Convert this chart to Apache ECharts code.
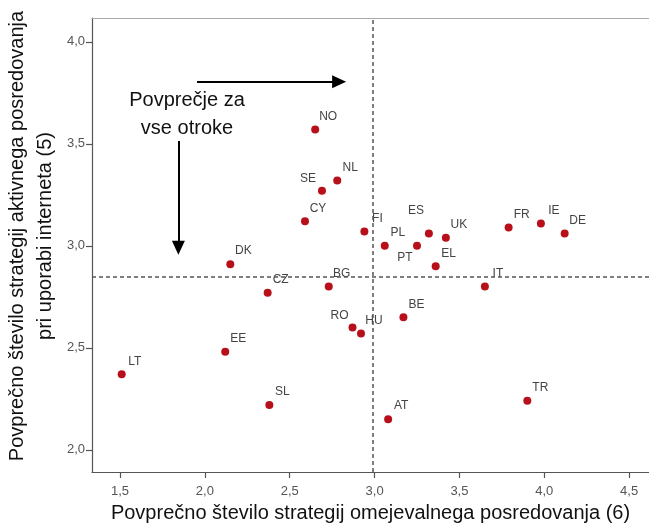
<!DOCTYPE html>
<html>
<head>
<meta charset="utf-8">
<script src="https://cdn.jsdelivr.net/npm/echarts@6/dist/echarts.min.js"></script>
<style>
html,body{margin:0;padding:0;background:#fff;}
#chart{width:649px;height:523px;}
</style>
</head>
<body>
<div id="chart"></div>
<script>
const countries = ['NO','NL','SE','CY','FI','PL','PT','ES','UK','EL','IT','FR','IE','DE','BE','DK','CZ','BG','RO','HU','EE','LT','SL','AT','TR'];
const restrictive = [2.65,2.78,2.69,2.59,2.94,3.06,3.25,3.32,3.42,3.36,3.65,3.79,3.98,4.12,3.17,2.15,2.37,2.73,2.87,2.92,2.12,1.51,2.38,3.08,3.90];
const active = [3.57,3.32,3.27,3.12,3.07,3.00,3.00,3.06,3.04,2.90,2.80,3.09,3.11,3.06,2.65,2.91,2.77,2.80,2.60,2.57,2.48,2.37,2.22,2.15,2.24];
const meanRestrictive = 2.99;
const meanActive = 2.85;
const xTicks = [1.5,2.0,2.5,3.0,3.5,4.0,4.5];
const yTicks = [2.0,2.5,3.0,3.5,4.0];
const xTitle = 'Povprečno število strategij omejevalnega posredovanja (6)';
const yTitle = ['Povprečno število strategij aktivnega posredovanja','pri uporabi interneta (5)'];
const noteText = ['Povprečje za','vse otroke'];

const FONT = '"Liberation Sans", Arial, sans-serif';
const fmt = v => v.toFixed(1).replace('.', ',');

// label placement overrides (style only)
const labelOffsets = { SE:[-14,-12], ES:[-13,-23], PT:[-12,12], RO:[-13,-12] };

const points = countries.map((c,i) => {
  const o = labelOffsets[c] || [13,-13];
  return { name:c, value:[restrictive[i], active[i]], label:{ offset:o } };
});

const chart = echarts.init(document.getElementById('chart'), null, {renderer:'canvas'});
const axisCommon = {
  type:'value',
  splitLine:{show:false},
};
chart.setOption({
  animation:false,
  backgroundColor:'#fff',
  grid:{ left:92, right:0, top:18, bottom:51, containLabel:false, outerBoundsMode:'none' },
  xAxis:[{
    ...axisCommon,
    min:1.335, max:4.617,
    axisLine:{ onZero:false, lineStyle:{ color:'#555', width:1.2 } },
    axisTick:{ show:true, length:6, customValues:xTicks, lineStyle:{ color:'#555', width:1.2 } },
    axisLabel:{ customValues:xTicks, formatter:fmt, color:'#555', fontSize:13, fontFamily:FONT, margin:13 },
    name:xTitle, nameLocation:'middle', nameGap:31,
    nameTextStyle:{ fontSize:20, fontFamily:FONT, color:'#111' }
  },{
    ...axisCommon, position:'top',
    min:1.335, max:4.617,
    axisLine:{ show:true, onZero:false, lineStyle:{ color:'#aaa', width:1.2 } },
    axisTick:{show:false}, axisLabel:{show:false}
  }],
  yAxis:{
    ...axisCommon,
    min:1.891, max:4.117,
    axisLine:{ show:true, onZero:false, lineStyle:{ color:'#555', width:1.2 } },
    axisTick:{ show:true, length:6, customValues:yTicks, lineStyle:{ color:'#555', width:1.2 } },
    axisLabel:{ customValues:yTicks, formatter:fmt, color:'#555', fontSize:13, fontFamily:FONT, margin:7 }
  },
  graphic:[
    { type:'text', x:31, y:236, rotation:Math.PI/2,
      style:{ text:yTitle.join('\n'), fontSize:20, fontFamily:FONT, fill:'#111', lineHeight:28,
              align:'center', verticalAlign:'middle' } },
    { type:'text', x:187, y:114,
      style:{ text:noteText.join('\n'), fontSize:20, fontFamily:FONT, fill:'#111', lineHeight:28,
              align:'center', verticalAlign:'middle' } }
  ],
  series:[{
    type:'scatter',
    xAxisIndex:0,
    data:points,
    symbolSize:8,
    itemStyle:{ color:'#b8101a', opacity:1 },
    label:{ show:true, position:'inside', formatter:'{b}', color:'#444', fontSize:12, fontFamily:FONT,
            align:'center', verticalAlign:'middle' },
    emphasis:{ disabled:true },
    markLine:{
      silent:true,
      animation:false,
      label:{show:false},
      data:[
        [{ coord:[meanRestrictive, 1.891], symbol:'none' }, { coord:[meanRestrictive, 4.117], symbol:'none' }],
        [{ coord:[1.335, meanActive], symbol:'none' }, { coord:[4.617, meanActive], symbol:'none' }],
        [{ coord:[1.954, 3.805], symbol:'none', lineStyle:{ type:'solid', color:'#000', width:2 } },
         { coord:[2.791, 3.805], symbol:'triangle', symbolSize:[13,14], lineStyle:{ type:'solid', color:'#000', width:2 } }],
        [{ coord:[1.844, 3.514], symbol:'none', lineStyle:{ type:'solid', color:'#000', width:2 } },
         { coord:[1.844, 2.99], symbol:'triangle', symbolSize:[13,14], lineStyle:{ type:'solid', color:'#000', width:2 } }]
      ],
      lineStyle:{ type:[4,3], color:'#555', width:1.5 },
      symbol:['none','none']
    }
  }]
});
</script>
</body>
</html>
